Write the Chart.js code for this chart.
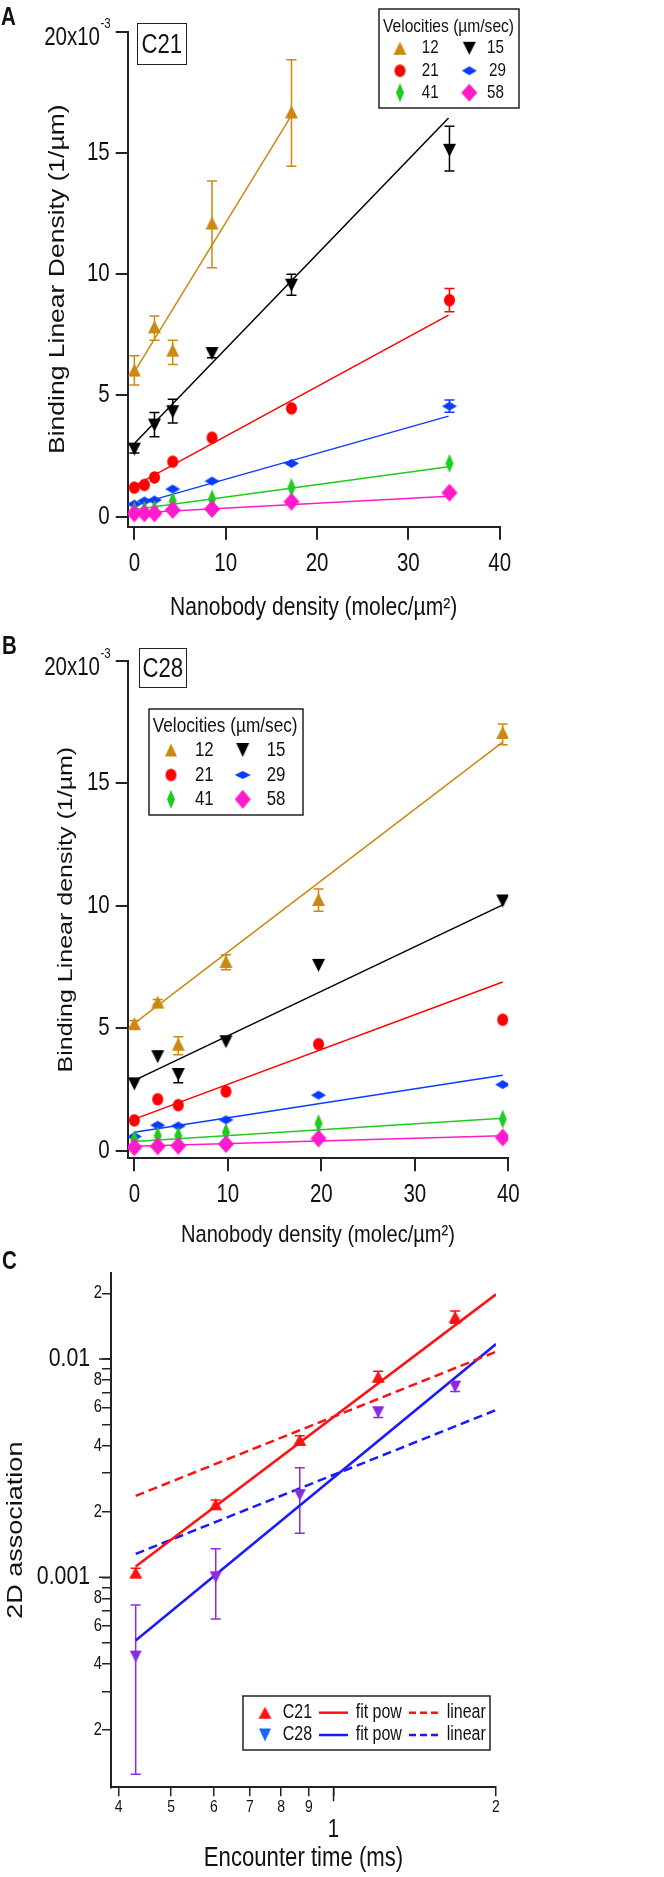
<!DOCTYPE html>
<html><head><meta charset="utf-8"><title>Binding linear density and 2D association</title>
<script src="https://cdn.jsdelivr.net/npm/chart.js@4.4.1/dist/chart.umd.min.js"></script>
<style>
html,body{margin:0;padding:0;background:#fff}
body{position:relative;width:664px;height:1877px;overflow:hidden;font-family:'Liberation Sans',Arial,sans-serif;color:#111}
canvas{position:absolute;left:0}
.pl{position:absolute;font-weight:bold;font-size:25px;line-height:25px;transform:scaleX(0.82);transform-origin:0 0}
.bx{position:absolute;box-sizing:border-box;border:1.5px solid #222;display:flex;align-items:center;justify-content:center;line-height:1}
.bx span{display:inline-block;font-size:27px;transform:scaleX(0.82)}
</style></head><body>
<canvas id="cA" width="664" height="640" style="top:0"></canvas>
<canvas id="cB" width="664" height="610" style="top:640px"></canvas>
<canvas id="cC" width="664" height="627" style="top:1250px"></canvas>
<div class="pl" style="left:1px;top:4px">A</div>
<div class="pl" style="left:2px;top:633px">B</div>
<div class="pl" style="left:2px;top:1248px">C</div>
<div class="bx" style="left:137px;top:23px;width:50px;height:42px"><span>C21</span></div>
<div class="bx" style="left:139px;top:648px;width:48px;height:40px"><span>C28</span></div>
<script>
const FAM = "'Liberation Sans',Arial,sans-serif";
const SQ = 0.82; // horizontal condensation of all lettering, as in the reference

// ---------------- Panel A : C21 (binding linear density, x10^-3 per µm) ----------------
const A_x      = [0, 1.1, 2.2, 4.2, 8.5, 17.2, 34.5];
const A_v12    = [6.05, null, 7.83, 6.87, 12.11, 16.69, null];
const A_v12_hi = [6.64, null, 8.28, 7.28, 13.84, 18.84, null];
const A_v12_lo = [5.43, null, 7.28, 6.28, 10.27, 14.45, null];
const A_v15    = [2.79, null, 3.78, 4.33, 6.73, 9.55, 15.11];
const A_v15_hi = [2.95, null, 4.30, 4.84, 6.90, 10.00, 16.10];
const A_v15_lo = [2.63, null, 3.30, 3.87, 6.56, 9.13, 14.26];
const A_v21    = [1.20, 1.31, 1.62, 2.27, 3.26, 4.47, 8.93];
const A_v21_hi = [null, null, null, null, null, null, 9.41];
const A_v21_lo = [null, null, null, null, null, null, 8.45];
const A_v29    = [0.52, 0.65, 0.69, 1.14, 1.47, 2.20, 4.56];
const A_v29_hi = [null, null, null, null, null, null, 4.81];
const A_v29_lo = [null, null, null, null, null, null, 4.31];
const A_v41    = [0.25, 0.28, 0.30, 0.65, 0.73, 1.21, 2.20];
const A_v58    = [0.14, 0.14, 0.14, 0.28, 0.32, 0.62, 0.99];
const A_fit12_x = [0, 17.2];
const A_fit12   = [5.97, 16.55];
const A_fitX    = [0, 34.4];
const A_fit15   = [3.02, 16.44];
const A_fit21   = [1.27, 8.31];
const A_fit29   = [0.48, 4.15];
const A_fit41   = [0.30, 2.06];
const A_fit58   = [0.15, 0.85];

// ---------------- Panel B : C28 ----------------
const B_x      = [0, 2.5, 4.7, 9.8, 19.7, 39.4];
const B_v12    = [5.19, 6.07, 4.35, 7.73, 10.26, 17.08];
const B_v12_hi = [5.32, 6.18, 4.65, 8.00, 10.69, 17.43];
const B_v12_lo = [5.06, 5.96, 3.92, 7.39, 9.78, 16.58];
const B_v15    = [2.73, 3.84, 3.11, 4.45, 7.57, 10.20];
const B_v15_hi = [null, null, 3.35, null, null, null];
const B_v15_lo = [null, null, 2.78, null, null, null];
const B_v21    = [1.24, 2.10, 1.86, 2.42, 4.35, 5.35];
const B_v29    = [0.58, 1.04, 1.01, 1.26, 2.27, 2.70];
const B_v41    = [0.45, 0.61, 0.61, 0.75, 1.11, 1.29];
const B_v58    = [0.14, 0.18, 0.20, 0.27, 0.50, 0.54];
const B_fitX   = [0, 39.4];
const B_fit12  = [5.20, 16.69];
const B_fit15  = [2.87, 10.04];
const B_fit21  = [1.29, 6.89];
const B_fit29  = [0.75, 3.08];
const B_fit41  = [0.38, 1.33];
const B_fit58  = [0.18, 0.61];

// ---------------- Panel C : 2D association vs encounter time ----------------
const C_t      = [0.43, 0.605, 0.866, 1.21, 1.68];
const C21_k    = [0.00105, 0.00216, 0.00426, 0.0083, 0.0156];
const C21_hi   = [0.00110, 0.00226, 0.00445, 0.0088, 0.0166];
const C21_lo   = [0.00100, 0.00206, 0.00408, 0.0079, 0.0146];
const C28_k    = [0.000433, 0.00100, 0.00238, 0.0057, 0.00747];
const C28_hi   = [0.000747, 0.00135, 0.00318, 0.0060, 0.0079];
const C28_lo   = [0.000125, 0.000644, 0.00159, 0.0054, 0.0071];
const C_fitX   = [0.43, 2];
const C21_pow  = [0.00112, 0.0198];
const C21_lin  = [0.00236, 0.0108];
const C28_pow  = [0.000513, 0.01172];
const C28_lin  = [0.00128, 0.00584];

// ---------------- tick labels ----------------
const AB_xticks = [0, 10, 20, 30, 40];
const AB_yticks = [0, 5, 10, 15, 20];
const C_xticks = [0.4, 0.5, 0.6, 0.7, 0.8, 0.9, 1, 2];
const C_yticks = [0.0002,0.0003,0.0004,0.0005,0.0006,0.0007,0.0008,0.0009,0.001,0.002,0.003,0.004,0.005,0.006,0.007,0.008,0.009,0.01,0.02];
const velocities = ['12','15','21','29','41','58'];

const GOLD='#cc8811', BLK='#000000', RED='#ff0000', BLUE='#0a3cff', GREEN='#1ecc1e', MAG='#ff1acc';
const CRED='#ff1111', CBLUE='#1a1aff', CPURP='#8a2be2', CLBLUE='#1a66ff';

// condensed lettering: squeeze every canvas text horizontally (device x) about its anchor
(function(){
  const P = CanvasRenderingContext2D.prototype, orig = P.fillText;
  P.fillText = function(t, x, y, mw){
    const m = this.getTransform();
    const ax = m.a*x + m.c*y + m.e;
    this.save();
    this.setTransform(SQ, 0, 0, 1, ax - SQ*ax, 0);
    this.transform(m.a, m.b, m.c, m.d, m.e, m.f);
    if (mw === undefined) orig.call(this, t, x, y); else orig.call(this, t, x, y, mw);
    this.restore();
  };
})();

function mk(shape, w, h, color){
  const pad=2, c=document.createElement('canvas');
  c.width=Math.ceil(w)+pad*2; c.height=Math.ceil(h)+pad*2;
  const g=c.getContext('2d'); const cx=c.width/2, cy=c.height/2;
  g.fillStyle=color; g.beginPath();
  if(shape==='up'){ g.moveTo(cx,cy-h/2); g.lineTo(cx+w/2,cy+h/2); g.lineTo(cx-w/2,cy+h/2); }
  else if(shape==='down'){ g.moveTo(cx-w/2,cy-h/2); g.lineTo(cx+w/2,cy-h/2); g.lineTo(cx,cy+h/2); }
  else if(shape==='circle'){ g.ellipse(cx,cy,w/2,h/2,0,0,Math.PI*2); }
  else { g.moveTo(cx,cy-h/2); g.lineTo(cx+w/2,cy); g.lineTo(cx,cy+h/2); g.lineTo(cx-w/2,cy); }
  g.closePath(); g.fill(); return c;
}
const M = {
  m12: mk('up',13,13,GOLD), m15: mk('down',13,13,BLK), m21: mk('circle',11,12.5,RED),
  m29: mk('diamond',15,9,BLUE), m41: mk('diamond',8,19,GREEN), m58: mk('diamond',16,18,MAG)
};
const MB = {
  m12: mk('up',12,13,GOLD), m15: mk('down',13,14,BLK), m21: mk('circle',11,12.5,RED),
  m29: mk('diamond',16,8,BLUE), m41: mk('diamond',8,19,GREEN), m58: mk('diamond',16,19,MAG)
};
const MC21 = mk('up',13,12,CRED), MC28 = mk('down',12,12,CPURP), MC28L = mk('down',12,13,CLBLUE);

function pts(xs, ys){ const o=[]; xs.forEach((x,i)=>{ if(ys[i]!=null) o.push({x:x, y:ys[i]}); }); return o; }
function scat(label, xs, ys, img){ return {label, data:pts(xs,ys), pointStyle:img, pointRadius:6, pointHoverRadius:6, showLine:false}; }
function fit(label, xs, ys, color, w, dash){ return {label, data:pts(xs,ys), showLine:true, borderColor:color, borderWidth:w, borderDash:dash||[], pointRadius:0, pointHoverRadius:0, fill:false}; }

function errBars(chart, xs, hi, lo, color, lw){
  const g=chart.ctx, sx=chart.scales.x, sy=chart.scales.y;
  g.save(); g.strokeStyle=color; g.lineWidth=lw||1.5;
  xs.forEach((x,i)=>{
    if(hi[i]==null||lo[i]==null) return;
    const px=sx.getPixelForValue(x), p1=sy.getPixelForValue(hi[i]), p2=sy.getPixelForValue(lo[i]);
    g.beginPath(); g.moveTo(px,p1); g.lineTo(px,p2);
    g.moveTo(px-5,p1); g.lineTo(px+5,p1); g.moveTo(px-5,p2); g.lineTo(px+5,p2); g.stroke();
  });
  g.restore();
}
function drawLegend(chart, L, off){
  const g=chart.ctx; g.save();
  g.strokeStyle='#222'; g.lineWidth=1.5; g.strokeRect(L.box[0], L.box[1]-off, L.box[2], L.box[3]);
  g.fillStyle='#111'; g.textBaseline='middle'; g.textAlign='left';
  if(L.title){ g.font=L.tsize+'px '+FAM; g.fillText(L.title, L.tx, L.ty-off); }
  L.items.forEach(it=>{
    const y=it.y-off;
    if(it.img) g.drawImage(it.img, it.mx-it.img.width/2, y-it.img.height/2);
    if(it.line){ g.strokeStyle=it.line.color; g.lineWidth=it.line.w; g.setLineDash(it.line.dash||[]);
      g.beginPath(); g.moveTo(it.line.x0,y); g.lineTo(it.line.x1,y); g.stroke(); g.setLineDash([]); }
    if(it.text){ g.font=L.nsize+'px '+FAM; g.fillStyle='#111'; g.fillText(it.text, it.tx, y); }
  });
  g.restore();
}
function topLabel(chart){
  const g=chart.ctx, y=chart.scales.y.getPixelForValue(20);
  g.save(); g.fillStyle='#111'; g.textBaseline='alphabetic';
  g.textAlign='right'; g.font='25px '+FAM; g.fillText('20x10', 100, y+13.5);
  g.textAlign='left'; g.font='14px '+FAM; g.fillText('-3', 100.5, y-3.5);
  g.restore();
}

function linScales(o){
  return {
    x:{type:'linear', min:o.xmin, max:40,
       afterBuildTicks:s=>{s.ticks=AB_xticks.map(v=>({value:v}));},
       afterFit:s=>{s.height=o.xh;},
       grid:{drawOnChartArea:false, drawTicks:true, tickLength:13, color:'#222', lineWidth:2},
       border:{display:true, color:'#222', width:2},
       ticks:{autoSkip:false, maxRotation:0, padding:9, color:'#111', font:{family:FAM,size:25}, callback:v=>String(v)},
       title:{display:true, text:'Nanobody density (molec/µm²)', color:'#111', font:{family:FAM,size:o.xts}, padding:{top:0,bottom:o.xtp}}},
    y:{type:'linear', min:o.ymin, max:20,
       afterBuildTicks:s=>{s.ticks=AB_yticks.map(v=>({value:v}));},
       afterFit:s=>{s.width=o.yw;},
       grid:{drawOnChartArea:false, drawTicks:true, tickLength:12, color:'#222', lineWidth:2},
       border:{display:true, color:'#222', width:2},
       ticks:{autoSkip:false, padding:6, color:'#111', font:{family:FAM,size:25}, callback:v=>(v===20?'':String(v))},
       title:{display:true, text:o.ytitle, color:'#111', font:{family:FAM,size:o.yts}, padding:{top:o.ytp,bottom:0}}}
  };
}
const common = {responsive:false, animation:false, events:[], devicePixelRatio:1};

// ---------- Chart A ----------
const legA = {box:[379,9,140,99], title:'Velocities (µm/sec)', tx:383, ty:27, tsize:19, nsize:18.5, items:[
  {img:M.m12,mx:400,y:48.3,text:velocities[0],tx:421.7},{img:M.m15,mx:469.3,y:48.3,text:velocities[1],tx:487},
  {img:M.m21,mx:400,y:70.7,text:velocities[2],tx:421.7},{img:M.m29,mx:469.3,y:70.7,text:velocities[3],tx:489},
  {img:M.m41,mx:400,y:92.7,text:velocities[4],tx:421.7},{img:M.m58,mx:469.3,y:92.7,text:velocities[5],tx:487}]};
new Chart(document.getElementById('cA'), {
  type:'scatter',
  data:{datasets:[
    scat('58',A_x,A_v58,M.m58), scat('41',A_x,A_v41,M.m41), scat('29',A_x,A_v29,M.m29),
    scat('21',A_x,A_v21,M.m21), scat('15',A_x,A_v15,M.m15), scat('12',A_x,A_v12,M.m12),
    fit('fit 58',A_fitX,A_fit58,MAG,1.5), fit('fit 41',A_fitX,A_fit41,GREEN,1.5), fit('fit 29',A_fitX,A_fit29,BLUE,1.5),
    fit('fit 21',A_fitX,A_fit21,RED,1.5), fit('fit 15',A_fitX,A_fit15,BLK,1.5), fit('fit 12',A_fit12_x,A_fit12,GOLD,1.5)
  ]},
  options:Object.assign({}, common, {
    layout:{padding:{left:0, top:31.7, right:164.3, bottom:0}},
    plugins:{legend:{display:false}, tooltip:{enabled:false}},
    scales:linScales({xmin:-0.73, ymin:-0.41, xh:113.3, yw:127.7, xts:25.7, xtp:16.6, yts:26.5, ytp:42.1, ytitle:'Binding Linear Density (1/µm)'})
  }),
  plugins:[{id:'extraA',
    beforeDatasetsDraw(c){ errBars(c,A_x,A_v12_hi,A_v12_lo,GOLD); errBars(c,A_x,A_v15_hi,A_v15_lo,BLK);
      errBars(c,A_x,A_v21_hi,A_v21_lo,RED); errBars(c,A_x,A_v29_hi,A_v29_lo,BLUE); },
    afterDraw(c){ topLabel(c); drawLegend(c,legA,0); }}]
});

// ---------- Chart B ----------
const legB = {box:[149,709,154,106], title:'Velocities (µm/sec)', tx:152.7, ty:726, tsize:21, nsize:20.5, items:[
  {img:MB.m12,mx:171,y:750,text:velocities[0],tx:195},{img:MB.m15,mx:242.7,y:750,text:velocities[1],tx:266.7},
  {img:MB.m21,mx:171,y:775,text:velocities[2],tx:195},{img:MB.m29,mx:242.7,y:775,text:velocities[3],tx:266.7},
  {img:MB.m41,mx:171,y:799.3,text:velocities[4],tx:195},{img:MB.m58,mx:242.7,y:799.3,text:velocities[5],tx:266.7}]};
new Chart(document.getElementById('cB'), {
  type:'scatter',
  data:{datasets:[
    scat('58',B_x,B_v58,M.m58), scat('41',B_x,B_v41,M.m41), scat('29',B_x,B_v29,M.m29),
    scat('21',B_x,B_v21,M.m21), scat('15',B_x,B_v15,M.m15), scat('12',B_x,B_v12,M.m12),
    fit('fit 58',B_fitX,B_fit58,MAG,1.5), fit('fit 41',B_fitX,B_fit41,GREEN,1.5), fit('fit 29',B_fitX,B_fit29,BLUE,1.5),
    fit('fit 21',B_fitX,B_fit21,RED,1.5), fit('fit 15',B_fitX,B_fit15,BLK,1.5), fit('fit 12',B_fitX,B_fit12,GOLD,1.5)
  ]},
  options:Object.assign({}, common, {
    layout:{padding:{left:0, top:17.7, right:155.7, bottom:0}},
    plugins:{legend:{display:false}, tooltip:{enabled:false}},
    scales:linScales({xmin:-0.71, ymin:-0.31, xh:91.7, yw:127.7, xts:24.5, xtp:0.3, yts:25, ytp:51, ytitle:'Binding Linear density (1/µm)'})
  }),
  plugins:[{id:'extraB',
    beforeDatasetsDraw(c){ errBars(c,B_x,B_v12_hi,B_v12_lo,GOLD); errBars(c,B_x,B_v15_hi,B_v15_lo,BLK); },
    afterDraw(c){ topLabel(c); drawLegend(c,legB,640); }}]
});

// ---------- Chart C ----------
const legC = {box:[243,1696,247,54], nsize:19.5, items:[
  {img:MC21,mx:265,y:1712.7,text:'C21',tx:282.7},
  {line:{x0:319,x1:348,color:CRED,w:2.5},y:1712.7,text:'fit pow',tx:355.7},
  {line:{x0:409,x1:439,color:CRED,w:2.5,dash:[7,4]},y:1712.7,text:'linear',tx:446.7},
  {img:MC28L,mx:265,y:1735,text:'C28',tx:282.7},
  {line:{x0:319,x1:348,color:CBLUE,w:2.5},y:1735,text:'fit pow',tx:355.7},
  {line:{x0:409,x1:439,color:CBLUE,w:2.5,dash:[7,4]},y:1735,text:'linear',tx:446.7}]};
function isDec(v){ if(!v) return false; const l=Math.log10(v); return Math.abs(l-Math.round(l))<1e-6; }
new Chart(document.getElementById('cC'), {
  type:'scatter',
  data:{datasets:[
    scat('C21',C_t,C21_k,MC21), scat('C28',C_t,C28_k,MC28),
    fit('C21 fit pow',C_fitX,C21_pow,CRED,2.5), fit('C21 linear',C_fitX,C21_lin,CRED,2.5,[9,5]),
    fit('C28 fit pow',C_fitX,C28_pow,CBLUE,2.5), fit('C28 linear',C_fitX,C28_lin,CBLUE,2.5,[9,5])
  ]},
  options:Object.assign({}, common, {
    layout:{padding:{left:0, top:23, right:168, bottom:0}},
    plugins:{legend:{display:false}, tooltip:{enabled:false}},
    scales:{
      x:{type:'logarithmic', min:0.387, max:2,
         afterBuildTicks:s=>{s.ticks=C_xticks.map(v=>({value:v}));},
         afterFit:s=>{s.height=89.7;},
         grid:{drawOnChartArea:false, drawTicks:true, tickLength:9, color:'#222', lineWidth:1.5},
         border:{display:true, color:'#222', width:2},
         ticks:{autoSkip:false, maxRotation:0, padding:0.5, color:'#111', font:{family:FAM,size:17},
                callback:v=>(v===1?'':String(v<1?Math.round(v*10):v))},
         title:{display:true, text:'Encounter time (ms)', color:'#111', font:{family:FAM,size:27}, padding:{top:0,bottom:1.8}}},
      y:{type:'logarithmic', min:0.000109, max:0.0248,
         afterBuildTicks:s=>{s.ticks=C_yticks.map(v=>({value:v}));},
         afterFit:s=>{s.width=111;},
         grid:{drawOnChartArea:false, drawTicks:true, tickLength:9, color:'#222', lineWidth:1.5},
         border:{display:true, color:'#222', width:2},
         ticks:{autoSkip:false, padding:0, color:'#111', font:ctx=>({family:FAM, size:(ctx.tick&&isDec(ctx.tick.value))?26:18}),
                callback:v=>{ const e=Math.floor(Math.log10(v)+1e-9), m=Math.round(v/Math.pow(10,e));
                  if(m===1) return (e===-2?'0.01':'0.001')+'  '; return m%2===0?String(m):''; }},
         title:{display:true, text:'2D association', color:'#111', font:{family:FAM,size:27}, padding:{top:0,bottom:0}}}
    }
  }),
  plugins:[{id:'extraC',
    beforeDatasetsDraw(c){ errBars(c,C_t,C21_hi,C21_lo,CRED); errBars(c,C_t,C28_hi,C28_lo,CPURP); },
    afterDraw(c){
      const g=c.ctx, sx=c.scales.x, sy=c.scales.y, a=c.chartArea;
      g.save(); g.strokeStyle='#222'; g.lineWidth=1.5;
      const p1=sx.getPixelForValue(1);
      g.beginPath(); g.moveTo(p1,a.bottom); g.lineTo(p1,a.bottom+14); g.stroke();
      [0.001,0.01].forEach(v=>{ const py=sy.getPixelForValue(v); g.beginPath(); g.moveTo(a.left-12,py); g.lineTo(a.left,py); g.stroke(); });
      g.fillStyle='#111'; g.font='25px '+FAM; g.textAlign='center'; g.textBaseline='middle';
      g.fillText('1', p1, 580);
      g.restore();
      drawLegend(c,legC,1250);
    }}]
});
</script></body></html>
